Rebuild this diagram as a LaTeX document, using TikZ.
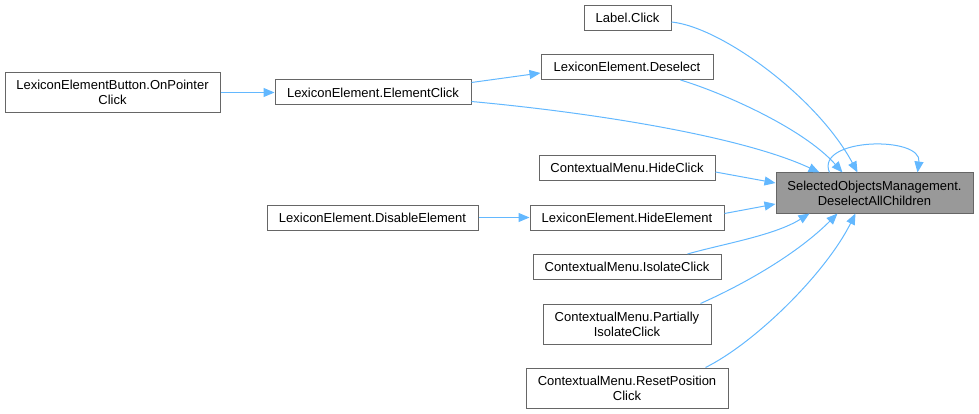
\documentclass[tikz,border=0pt]{standalone}
\usepackage{fontspec}
\setmainfont{Liberation Sans}
\usetikzlibrary{arrows.meta,calc}
\definecolor{edgeblue}{HTML}{63B8FF}
\definecolor{boxborder}{HTML}{666666}
\definecolor{mainfill}{HTML}{999999}
\begin{document}
\begin{tikzpicture}[x=1pt,y=-1pt,
  box/.style={draw=boxborder,fill=white,line width=1pt,inner sep=0pt,align=center,
    font=\fontsize{13}{15}\selectfont,minimum height=25pt},
  tallbox/.style={box,minimum height=40pt},
  mainbox/.style={tallbox,fill=mainfill},
  conn/.style={draw=edgeblue,line width=1pt,-{Triangle[length=11pt,width=9pt]}}]
\useasboundingbox (0,0) rectangle (979,414);
% nodes
\node[mainbox,minimum width=197pt] (main) at (874.5,193) {SelectedObjectsManagement.\\DeselectAllChildren};
\node[tallbox,minimum width=215pt] (btn) at (112.5,92.5) {LexiconElementButton.OnPointer\\Click};
\node[box,minimum width=196pt] (eclick) at (373,92.5) {LexiconElement.ElementClick};
\node[box,minimum width=87pt] (label) at (627.5,18) {Label.Click};
\node[box,minimum width=172pt] (desel) at (627,67) {LexiconElement.Deselect};
\node[box,minimum width=176pt] (hideclick) at (627,168) {ContextualMenu.HideClick};
\node[box,minimum width=211pt] (disable) at (372.5,217.5) {LexiconElement.DisableElement};
\node[box,minimum width=194pt] (hideel) at (627,217.5) {LexiconElement.HideElement};
\node[box,minimum width=188pt] (isolate) at (627,267) {ContextualMenu.IsolateClick};
\node[tallbox,minimum width=168pt] (partial) at (627,324) {ContextualMenu.Partially\\IsolateClick};
\node[tallbox,minimum width=202pt] (reset) at (627,388) {ContextualMenu.ResetPosition\\Click};
% edges
\draw[conn] (btn.east) -- (eclick.west);
\draw[conn] ($(eclick.east)+(0,-10)$) -- ($(desel.west)+(0,6)$);
\draw[conn] (disable.east) -- (hideel.west);
\draw[conn] ($(label.east)+(0,4)$) .. controls +(50,5) and +(-40,-75) .. ($(main.north west)+(82,0)$);
\draw[conn] ($(desel.south east)+(-33,0)$) .. controls +(40,12) and +(-40,-45) .. ($(main.north west)+(67,0)$);
\draw[conn] ($(eclick.east)+(0,9)$) .. controls +(130,12) and +(-75,-35) .. ($(main.north west)+(44,0)$);
\draw[conn] ($(main.north west)+(54,0)$) .. controls +(-15,-35) and +(5,-37) .. ($(main.north west)+(142,0)$);
\draw[conn] ($(hideclick.east)+(0,4)$) -- ($(main.west)+(0,-10)$);
\draw[conn] ($(hideel.east)+(0,-4)$) -- ($(main.west)+(0,11)$);
\draw[conn] ($(isolate.north east)+(-34,0)$) .. controls +(35,-10) and +(-35,22) .. ($(main.south west)+(34,0)$);
\draw[conn] ($(partial.north east)+(-11,0)$) .. controls +(45,-20) and +(-40,40) .. ($(main.south west)+(62,0)$);
\draw[conn] ($(reset.north east)+(-23,0)$) .. controls +(50,-25) and +(-30,60) .. ($(main.south west)+(80,0)$);
\end{tikzpicture}
\end{document}
